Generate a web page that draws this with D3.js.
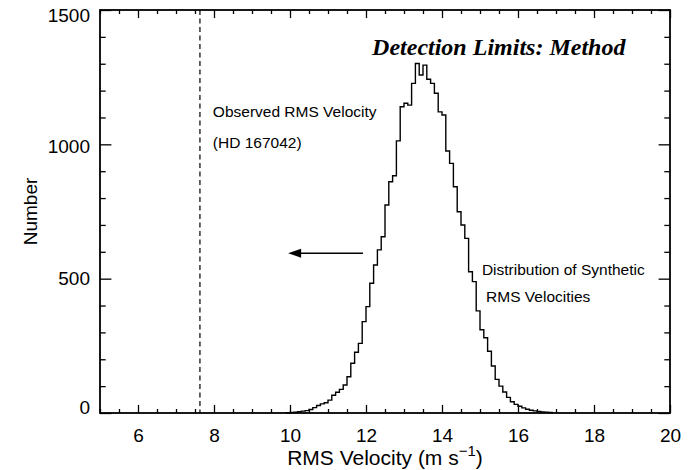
<!DOCTYPE html>
<html>
<head>
<meta charset="utf-8">
<script src="https://cdn.jsdelivr.net/npm/d3@7"></script>
<style>
  body { margin: 0; background: #fff; }
  svg { display: block; }
</style>
</head>
<body>
<div id="chart"></div>
<script>
// bin centres (m/s) and counts
const binCenters = [
  9.95, 10.05, 10.15, 10.25, 10.35, 10.45, 10.55, 10.65, 10.75, 10.85,
  10.95, 11.05, 11.15, 11.25, 11.35, 11.45, 11.55, 11.65, 11.75, 11.85,
  11.95, 12.05, 12.15, 12.25, 12.35, 12.45, 12.55, 12.65, 12.75, 12.85,
  12.95, 13.05, 13.15, 13.25, 13.35, 13.45, 13.55, 13.65, 13.75, 13.85,
  13.95, 14.05, 14.15, 14.25, 14.35, 14.45, 14.55, 14.65, 14.75, 14.85,
  14.95, 15.05, 15.15, 15.25, 15.35, 15.45, 15.55, 15.65, 15.75, 15.85,
  15.95, 16.05, 16.15, 16.25, 16.35, 16.45, 16.55, 16.65, 16.75, 16.85,
];
const counts = [
  1, 2, 3, 5, 7, 9, 13, 20, 28, 34,
  38, 48, 66, 77, 88, 104, 135, 185, 226, 259,
  340, 396, 483, 551, 607, 656, 774, 861, 883, 1013,
  1140, 1153, 1146, 1227, 1301, 1258, 1295, 1242, 1227, 1190,
  1121, 1109, 975, 929, 842, 749, 700, 650, 526, 489,
  380, 310, 280, 230, 175, 125, 100, 78, 58, 42,
  32, 25, 19, 14, 10, 8, 6, 4, 3, 2,
];
const binWidth = 0.1;

const xMajorTicks = [6, 8, 10, 12, 14, 16, 18, 20];
const yMajorTicks = [0, 500, 1000, 1500];

const observedRms = 7.63;
const arrowFrom = [11.92, 595];
const arrowTo = [9.95, 595];

const W = 699, H = 470;
const margin = { left: 100, right: 29, top: 10, bottom: 57 };
const width = W - margin.left - margin.right;
const height = H - margin.top - margin.bottom;

const x = d3.scaleLinear().domain([5, 20]).range([0, width]);
const y = d3.scaleLinear().domain([0, 1500]).range([height, 0]);

const svgRoot = d3.select("#chart").append("svg")
  .attr("width", W).attr("height", H)
  .style("font-family", "'Liberation Sans', Arial, sans-serif");
svgRoot.append("rect").attr("width", W).attr("height", H).attr("fill", "#fff");

const svg = svgRoot.append("g")
  .attr("transform", `translate(${margin.left},${margin.top})`);

// tick lengths like IDL: fraction of the perpendicular plot size
const xTickLen = 0.02 * height, yTickLen = 0.02 * width;
const xMinor = d3.range(5, 20.001, 0.5).filter(v => v % 2 !== 0);
const yMinor = d3.range(0, 1501, 100).filter(v => v % 500 !== 0);

function styleAxis(g, fontSize) {
  g.select(".domain").remove();
  g.selectAll("line").attr("stroke", "#000").attr("stroke-width", 1.3);
  g.selectAll("text").attr("fill", "#000").style("font-size", fontSize);
}

// bottom
svg.append("g").attr("transform", `translate(0,${height})`)
  .call(d3.axisBottom(x).tickValues(xMajorTicks).tickSizeInner(-xTickLen).tickSizeOuter(0).tickPadding(16).tickFormat(d3.format("d")))
  .call(g => styleAxis(g, "19px"));
svg.append("g").attr("transform", `translate(0,${height})`)
  .call(d3.axisBottom(x).tickValues(xMinor).tickSizeInner(-xTickLen / 2).tickSizeOuter(0).tickFormat(""))
  .call(g => styleAxis(g, "0px"));
// top
svg.append("g")
  .call(d3.axisTop(x).tickValues(xMajorTicks).tickSizeInner(-xTickLen).tickSizeOuter(0).tickFormat(""))
  .call(g => styleAxis(g, "0px"));
svg.append("g")
  .call(d3.axisTop(x).tickValues(xMinor).tickSizeInner(-xTickLen / 2).tickSizeOuter(0).tickFormat(""))
  .call(g => styleAxis(g, "0px"));
// left (end labels sit inside the frame, as in the original)
const yLabelShift = { 0: -6, 500: 0, 1000: 2, 1500: 5 };
svg.append("g")
  .call(d3.axisLeft(y).tickValues(yMajorTicks).tickSizeInner(-yTickLen).tickSizeOuter(0).tickPadding(10).tickFormat(d3.format("d")))
  .call(g => styleAxis(g, "19px"))
  .call(g => g.selectAll("text").attr("y", d => yLabelShift[d]));
svg.append("g")
  .call(d3.axisLeft(y).tickValues(yMinor).tickSizeInner(-yTickLen / 2).tickSizeOuter(0).tickFormat(""))
  .call(g => styleAxis(g, "0px"));
// right
svg.append("g").attr("transform", `translate(${width},0)`)
  .call(d3.axisRight(y).tickValues(yMajorTicks).tickSizeInner(-yTickLen).tickSizeOuter(0).tickFormat(""))
  .call(g => styleAxis(g, "0px"));
svg.append("g").attr("transform", `translate(${width},0)`)
  .call(d3.axisRight(y).tickValues(yMinor).tickSizeInner(-yTickLen / 2).tickSizeOuter(0).tickFormat(""))
  .call(g => styleAxis(g, "0px"));

svg.append("rect")
  .attr("width", width).attr("height", height)
  .attr("fill", "none").attr("stroke", "#000").attr("stroke-width", 1.8);

// histogram (stepped)
const steps = binCenters.map((c, i) => ({ v: c - binWidth / 2, n: counts[i] }));
steps.unshift({ v: binCenters[0] - binWidth / 2, n: 0 });
steps.push({ v: binCenters[binCenters.length - 1] + binWidth / 2, n: counts[counts.length - 1] });
steps.push({ v: binCenters[binCenters.length - 1] + binWidth / 2, n: 0 });

svg.append("path")
  .datum(steps)
  .attr("fill", "none")
  .attr("stroke", "#000")
  .attr("stroke-width", 1.4)
  .attr("d", d3.line().x(d => x(d.v)).y(d => y(d.n)).curve(d3.curveStepAfter));

// observed value
svg.append("line")
  .attr("x1", x(observedRms)).attr("x2", x(observedRms))
  .attr("y1", 0).attr("y2", height)
  .attr("stroke", "#000").attr("stroke-width", 1.2)
  .attr("stroke-dasharray", "5,3.5");

// arrow
const ax0 = x(arrowFrom[0]), ax1 = x(arrowTo[0]), ay = y(arrowFrom[1]);
svg.append("line")
  .attr("x1", ax0).attr("x2", ax1 + 10).attr("y1", ay).attr("y2", ay)
  .attr("stroke", "#000").attr("stroke-width", 1.5);
svg.append("path")
  .attr("d", `M${ax1},${ay} L${ax1 + 13},${ay - 4.5} L${ax1 + 13},${ay + 4.5} Z`)
  .attr("fill", "#000");

// annotations
const notes = [
  { text: "Observed RMS Velocity", v: 7.97, n: 1102 },
  { text: "(HD 167042)", v: 7.97, n: 986 },
  { text: "Distribution of Synthetic", v: 15.05, n: 514 },
  { text: "RMS Velocities", v: 15.16, n: 413 },
];
svg.selectAll("text.note")
  .data(notes)
  .join("text")
  .attr("class", "note")
  .attr("x", d => x(d.v))
  .attr("y", d => y(d.n))
  .style("font-size", "15.5px")
  .text(d => d.text);

svg.append("text")
  .attr("x", x(12.16))
  .attr("y", y(1332))
  .style("font-family", "'Liberation Serif', 'Times New Roman', serif")
  .style("font-style", "italic")
  .style("font-weight", "700")
  .style("font-size", "24px")
  .text("Detection Limits: Method");

// axis titles
const xTitle = svg.append("text")
  .attr("x", width / 2)
  .attr("y", height + 52)
  .attr("text-anchor", "middle")
  .style("font-size", "21px");
xTitle.append("tspan").text("RMS Velocity (m s");
xTitle.append("tspan").attr("dy", -9).style("font-size", "15px").text("\u22121");
xTitle.append("tspan").attr("dy", 9).text(")");

svg.append("text")
  .attr("transform", "rotate(-90)")
  .attr("x", -height / 2)
  .attr("y", -margin.left + 37)
  .attr("text-anchor", "middle")
  .style("font-size", "19px")
  .text("Number");
</script>
</body>
</html>
